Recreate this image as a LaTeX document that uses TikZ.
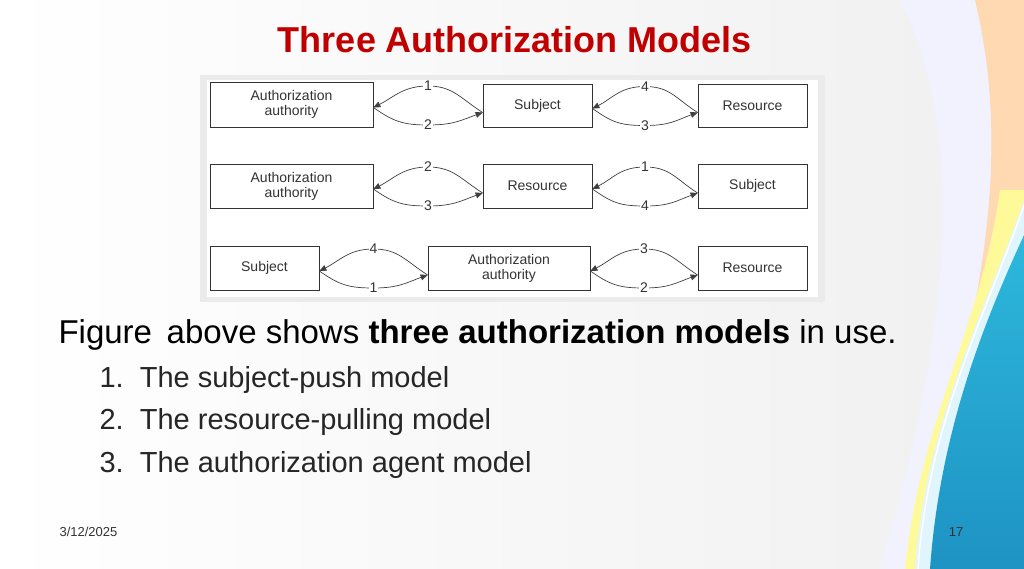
\documentclass[tikz,border=0pt]{standalone}
\usepackage{fontspec}
\setmainfont{Liberation Sans}
\usetikzlibrary{arrows.meta,calc}
\definecolor{ttl}{HTML}{C00000}
\definecolor{bluedeep}{HTML}{1E93C4}
\definecolor{bluelite}{HTML}{2DB8DC}
\tikzset{
 bx/.style={draw=black!80,line width=0.8pt,fill=white,inner sep=0,font=\fontsize{14}{15}\selectfont,text=black!80,align=center},
 arr/.style={line width=0.7pt,black!75,-{Triangle[length=7pt,width=6pt]}},
 lbl/.style={fill=white,inner sep=1pt,font=\fontsize{14}{14}\selectfont,text=black!80}
}
\begin{document}
\begin{tikzpicture}[x=1pt,y=-1pt]
\useasboundingbox (0,0) rectangle (1024,569);
\shade[left color=white,right color=black!6] (0,0) rectangle (1024,569);
% decorations
\fill[blue!5] (900,0) .. controls (960,120) and (960,300) .. (880,569) -- (1024,569) -- (1024,0) -- cycle;
\fill[orange!30] (975,0) .. controls (1010,150) and (990,300) .. (905,569) -- (1024,569) -- (1024,0) -- cycle;
\fill[yellow!40] (1000,190) .. controls (980,330) and (920,420) .. (905,569) -- (1024,569) -- (1024,190) -- cycle;
\fill[cyan!12] (1024,200) .. controls (990,300) and (925,420) .. (915,569) -- (1024,569) -- cycle;
\draw[white,line width=1.5pt] (1024,205) .. controls (990,305) and (928,420) .. (918,569);
\shade[top color=bluelite,bottom color=bluedeep] (1024,235) .. controls (985,320) and (940,430) .. (930,569) -- (1024,569) -- cycle;
% title
\node[font=\bfseries\fontsize{36}{38}\selectfont,text=ttl] (title) at (515,40) {Three Authorization Models};
% diagram panel
\fill[black!8] (200,75) rectangle (825,302);
\fill[white] (207,80) rectangle (818,297);
% row 1
\node[bx,minimum width=163,minimum height=45] (a1) at (291.5,104.5) {Authorization\\authority};
\node[bx,minimum width=109,minimum height=43] (s1) at (537.5,105.5) {Subject};
\node[bx,minimum width=109,minimum height=43] (r1) at (752.5,105.5) {Resource};
% row 2
\node[bx,minimum width=163,minimum height=44] (a2) at (291.5,186) {Authorization\\authority};
\node[bx,minimum width=109,minimum height=44] (r2) at (537.5,186) {Resource};
\node[bx,minimum width=109,minimum height=44] (s2) at (752.5,186) {Subject};
% row 3
\node[bx,minimum width=109,minimum height=44] (s3) at (264.5,268) {Subject};
\node[bx,minimum width=162,minimum height=44] (a3) at (509,268) {Authorization\\authority};
\node[bx,minimum width=109,minimum height=44] (r3) at (752.5,268) {Resource};
% arrow pairs
\newcommand{\pairarr}[4]{%
 \coordinate (ta) at ($(#1.east)!0.5!(#2.west)+(0,-19)$);
 \coordinate (tb) at ($(#1.east)!0.5!(#2.west)+(0,20)$);
 \draw[arr] ([yshift=-7pt]#2.west) .. controls ($([yshift=-7pt]#2.west)+(-22,-14)$) and ($(ta)+(25,0)$) .. (ta) node[lbl]{#3} .. controls ($(ta)+(-25,0)$) and ($([yshift=-3pt]#1.east)+(20,-10)$) .. ([yshift=-3pt]#1.east);
 \draw[arr] ([yshift=-3pt]#1.east) .. controls ($([yshift=-3pt]#1.east)+(20,14)$) and ($(tb)+(-25,0)$) .. (tb) node[lbl]{#4} .. controls ($(tb)+(25,0)$) and ($([yshift=-7pt]#2.west)+(-22,8)$) .. ([yshift=-7pt]#2.west);
}
\pairarr{a1}{s1}{1}{2}
\pairarr{s1}{r1}{4}{3}
\pairarr{a2}{r2}{2}{3}
\pairarr{r2}{s2}{1}{4}
\pairarr{s3}{a3}{4}{1}
\pairarr{a3}{r3}{3}{2}
% text
\node[anchor=west,font=\fontsize{33}{35}\selectfont] (t0) at (55,335) {Figure\, above shows \textbf{three authorization models} in use.};
\node[anchor=west,font=\fontsize{29}{31}\selectfont,text=black!85] (t1) at (96,380) {1.\ \ The subject-push model};
\node[anchor=west,font=\fontsize{29}{31}\selectfont,text=black!85] (t2) at (96,422) {2.\ \ The resource-pulling model};
\node[anchor=west,font=\fontsize{29}{31}\selectfont,text=black!85] (t3) at (96,465) {3.\ \ The authorization agent model};
\node[anchor=west,font=\fontsize{13}{14}\selectfont,text=black!80] (d) at (56,532) {3/12/2025};
\node[font=\fontsize{13}{14}\selectfont,text=black!80] (p) at (956,532) {17};
\end{tikzpicture}
\end{document}
